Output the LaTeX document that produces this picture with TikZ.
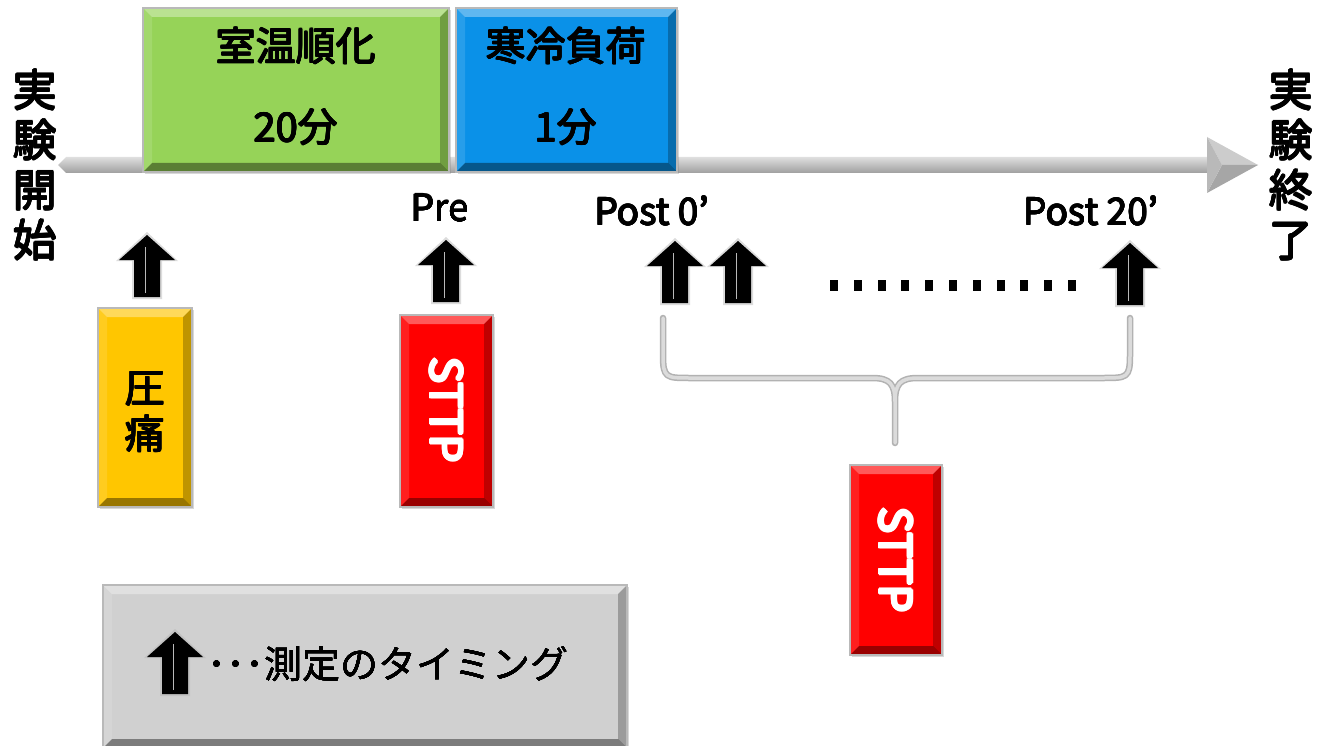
\documentclass[tikz,border=0pt]{standalone}
\usepackage{fontspec}
\newfontfamily\jp{Noto Sans CJK JP}
\newlength\hvA \newlength\hvB
\newcommand\heavy[2]{\leavevmode\setlength\hvA{#1pt}\setlength\hvB{0.7\hvA}%
  \rlap{\hspace{\hvA}#2}\rlap{\hspace{-\hvA}#2}\rlap{\raisebox{\hvA}{#2}}\rlap{\raisebox{-\hvA}{#2}}%
  \rlap{\hspace{\hvB}\raisebox{\hvB}{#2}}\rlap{\hspace{-\hvB}\raisebox{-\hvB}{#2}}%
  \rlap{\hspace{\hvB}\raisebox{-\hvB}{#2}}\rlap{\hspace{-\hvB}\raisebox{\hvB}{#2}}#2}
\usetikzlibrary{shadows}
\definecolor{cgreen}{HTML}{96D358}
\definecolor{cblue}{HTML}{0A91E8}
\definecolor{cyellow}{HTML}{FFC600}
\definecolor{cred}{HTML}{FF0000}
\definecolor{clegend}{HTML}{D0D0D0}
\begin{document}
\begin{tikzpicture}[x=1pt,y=-1pt,
  bevel/.style={path picture={
    \coordinate (bA) at (path picture bounding box.north west);
    \coordinate (bB) at (path picture bounding box.north east);
    \coordinate (bC) at (path picture bounding box.south east);
    \coordinate (bD) at (path picture bounding box.south west);
    \fill[white,opacity=.35] (bA) -- (bB) -- ([xshift=-#1,yshift=-#1]bB) -- ([xshift=#1,yshift=-#1]bA) -- cycle;
    \fill[white,opacity=.12] (bA) -- ([xshift=#1,yshift=-#1]bA) -- ([xshift=#1,yshift=#1]bD) -- (bD) -- cycle;
    \fill[black,opacity=.25] (bB) -- (bC) -- ([xshift=-#1,yshift=#1]bC) -- ([xshift=-#1,yshift=-#1]bB) -- cycle;
    \fill[black,opacity=.40] (bD) -- (bC) -- ([xshift=-#1,yshift=#1]bC) -- ([xshift=#1,yshift=#1]bD) -- cycle;
  }},
  box/.style={draw=gray!55, line width=1.5pt, bevel=#1, inner sep=0pt,
    drop shadow={shadow xshift=2pt,shadow yshift=-2pt,opacity=.3}},
  box/.default=9pt,
  lbl/.style={font=\jp\fontsize{40}{40}\selectfont, text=black},
  vlbl/.style={font=\jp\fontsize{44}{50}\selectfont, align=center, text=black},
  tlbl/.style={font=\jp\fontsize{37}{37}\selectfont, text=black},
  sttp/.style={font=\jp\fontsize{44}{44}\selectfont, text=white, rotate=-90},
  brace/.style={draw=gray!60, line width=6.5pt, line cap=round, line join=round,
    postaction={draw=gray!28, line width=3.5pt}},
  uparrow/.pic={
    \fill[gray!60,opacity=.45] (-15,2) -- (15,2) -- (15,-36) -- (31,-36) -- (0,-65) -- (-31,-36) -- (-15,-36) -- cycle;
    \fill[black] (-13,0) -- (13,0) -- (13,-37) -- (28,-37) -- (0,-62) -- (-28,-37) -- (-13,-37) -- cycle;
    \draw[gray!55, line width=1pt] (-2,-4) -- (-2,-50);
  }
]
\useasboundingbox[fill=white] (0,0) rectangle (1330,746);

% timeline
\coordinate (ts) at (58,165);
\coordinate (te) at (1258,165);
\shade[top color=gray!25, bottom color=gray!75] (ts) -- ([xshift=8pt,yshift=8pt]ts) -- (1210,157) -- (1210,173) -- ([xshift=8pt,yshift=-8pt]ts) -- cycle;
\fill[gray!40] (1207,137) -- (te) -- (1222,165) -- cycle;
\fill[gray!70] (1207,193) -- (te) -- (1222,165) -- cycle;
\fill[gray!55] (1207,137) -- (1222,165) -- (1207,193) -- cycle;

% phase boxes
\node[box, fill=cgreen, minimum width=306pt, minimum height=164pt] (warm) at (296,90) {};
\node[box, fill=cblue, minimum width=221pt, minimum height=164pt] (cold) at (566.5,90) {};
\node[lbl] (t1) at (296,46) {\heavy{0.4}{室温順化}};
\node[lbl] (t2) at (296,127) {\heavy{0.4}{20分}};
\node[lbl] (t3) at (566,46) {\heavy{0.4}{寒冷負荷}};
\node[lbl] (t4) at (566,127) {\heavy{0.4}{1分}};

% side labels
\node[vlbl] (start) at (35,165) {\heavy{0.8}{実}\\\heavy{0.8}{験}\\\heavy{0.8}{開}\\\heavy{0.8}{始}};
\node[vlbl] (end) at (1291,165) {\heavy{0.8}{実}\\\heavy{0.8}{験}\\\heavy{0.8}{終}\\\heavy{0.8}{了}};

% time labels
\node[tlbl] (pre) at (440,208) {\heavy{0.4}{Pre}};
\node[tlbl] (post0) at (652,211) {\heavy{0.4}{Post 0’}};
\node[tlbl] (post20) at (1091,211) {\heavy{0.4}{Post 20’}};

% measurement arrows
\pic (pa1) at (147,297) {uparrow};
\pic (pa2) at (446,302) {uparrow};
\pic (pa3) at (675,303) {uparrow};
\pic (pa4) at (738,303) {uparrow};
\pic (pa5) at (1130,305) {uparrow};

% dots
\foreach \i in {0,...,10} \fill[black] (830+\i*23.8,280) rectangle ++(8,11);

% boxes below
\node[box, fill=cyellow, minimum width=94pt, minimum height=199pt] (pain) at (145,407.5) {};
\node[font=\jp\fontsize{40}{46}\selectfont, align=center] (paint) at (145,412) {\heavy{0.7}{圧}\\\heavy{0.7}{痛}};
\node[box, fill=cred, minimum width=93pt, minimum height=192pt] (s1) at (446.5,411) {};
\node[sttp] (s1t) at (446.5,410) {\heavy{1.3}{STTP}};
\node[box, fill=cred, minimum width=92pt, minimum height=190pt] (s2) at (896,560) {};
\node[sttp] (s2t) at (896,560) {\heavy{1.3}{STTP}};

% brace
\coordinate (bl) at (663,318);
\coordinate (br) at (1130,318);
\coordinate (bt) at (895,443);
\draw[brace] (bl) -- (663,355) .. controls (663,378) and (666,378) .. (690,378) -- (872,378) .. controls (890,378) and (895,384) .. (895,402) -- (bt)
             (br) -- (1130,355) .. controls (1130,378) and (1127,378) .. (1103,378) -- (918,378) .. controls (900,378) and (895,384) .. (895,402);

% legend
\node[box, fill=clegend, minimum width=524pt, minimum height=163pt] (legend) at (365,666.5) {};
\pic (la) at (175,694) {uparrow};
\node[anchor=west, font=\jp\fontsize{38}{38}\selectfont] (lt) at (204,664) {\heavy{0.3}{･･･測定のタイミング}};
\end{tikzpicture}
\end{document}
